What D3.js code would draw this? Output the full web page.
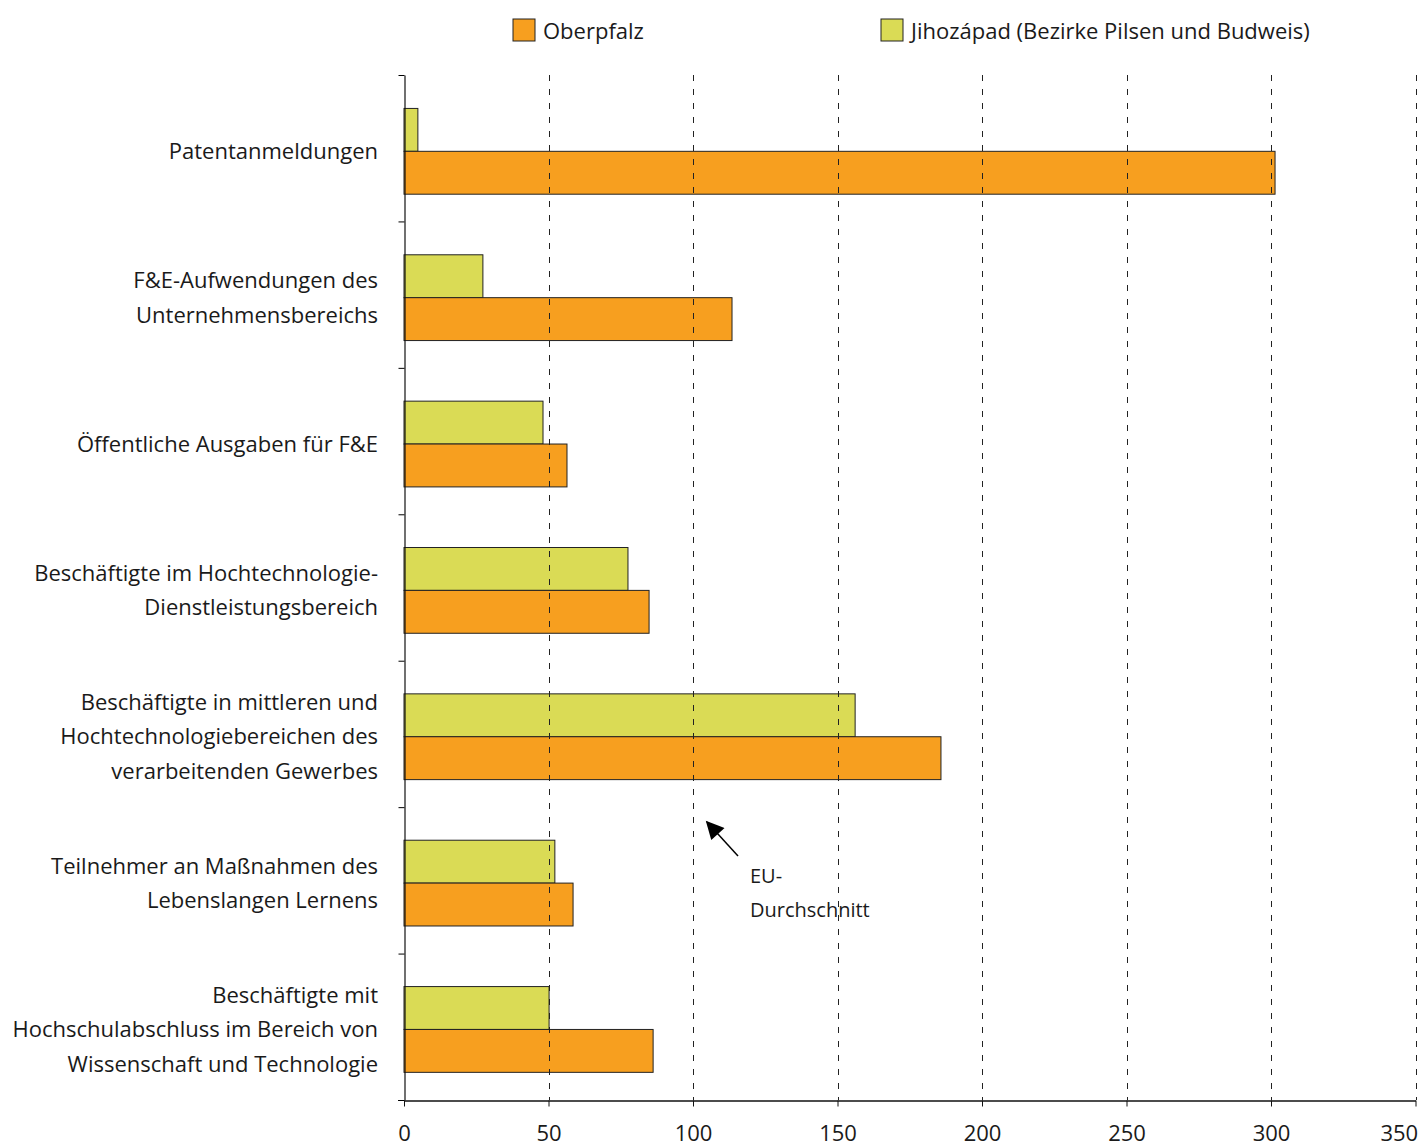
<!DOCTYPE html>
<html><head><meta charset="utf-8">
<script src="https://cdn.jsdelivr.net/npm/d3@7"></script>
<style>body{margin:0;background:#fff}svg{display:block}text{font-family:"Open Sans",sans-serif;fill:#1a1a1a}</style>
</head><body><svg id="c" width="1418" height="1148"></svg>
<script>
const categories = [
  ["Patentanmeldungen"],
  ["F&E-Aufwendungen des","Unternehmensbereichs"],
  ["Öffentliche Ausgaben für F&E"],
  ["Beschäftigte im Hochtechnologie-","Dienstleistungsbereich"],
  ["Beschäftigte in mittleren und","Hochtechnologiebereichen des","verarbeitenden Gewerbes"],
  ["Teilnehmer an Maßnahmen des","Lebenslangen Lernens"],
  ["Beschäftigte mit","Hochschulabschluss im Bereich von","Wissenschaft und Technologie"]
];
const seriesNames = ["Oberpfalz","Jihozápad (Bezirke Pilsen und Budweis)"];
const jihozapad = [4.8, 27.3, 48.1, 77.5, 156.1, 52.2, 50.2];
const oberpfalz = [301.4, 113.5, 56.4, 84.8, 185.8, 58.5, 86.2];
const xTicks = [0,50,100,150,200,250,300,350];
const colors = {o:"#F79F1F", j:"#DADB55"};

const svg = d3.select("#c");
const x = d3.scaleLinear().domain([0,350]).range([404,1415.5]);
const y = d3.scaleBand().domain(d3.range(categories.length)).range([75.5,1100]);
const bw = y.bandwidth();
const off = bw*0.225, bh = bw*0.293;

// bars
const g = svg.append("g");
categories.forEach((c,i)=>{
  const y0 = y(i)+off;
  g.append("rect").attr("x",x(0)).attr("y",y0).attr("width",x(jihozapad[i])-x(0)).attr("height",bh)
   .attr("fill",colors.j).attr("stroke","#222").attr("stroke-width",1);
  g.append("rect").attr("x",x(0)).attr("y",y0+bh).attr("width",x(oberpfalz[i])-x(0)).attr("height",bh)
   .attr("fill",colors.o).attr("stroke","#222").attr("stroke-width",1);
  const cy = y0+bh;
  const n = c.length, lh = 34.5;
  c.forEach((t,k)=>{
    svg.append("text").attr("x",378).attr("y",cy+(k-(n-1)/2)*lh).attr("dy","0.35em")
      .attr("text-anchor","end").style("font-size","22px").text(t);
  });
});

// gridlines
svg.append("g").selectAll("line").data(xTicks.slice(1)).join("line")
  .attr("x1",d=>Math.round(x(d))+0.5).attr("x2",d=>Math.round(x(d))+0.5).attr("y1",75).attr("y2",1100)
  .attr("stroke","#222").attr("stroke-width",1).attr("stroke-dasharray","6,8");

// axes
const xa = svg.append("g").attr("transform","translate(0,1100.5)")
  .call(d3.axisBottom(x).tickValues(xTicks).tickSize(6).tickPadding(19).tickSizeOuter(0));
xa.select(".domain").attr("stroke","#111").attr("stroke-width",1.5);
xa.selectAll("text").style("font-size","22px").style("font-family","'Open Sans',sans-serif").attr("fill","#1a1a1a");
xa.selectAll(".tick line").attr("stroke","#111");
xa.selectAll(".tick").filter(d=>d===350).select("text").attr("text-anchor","end").attr("dx","0.1em");
svg.append("line").attr("x1",398).attr("x2",404).attr("y1",1100.5).attr("y2",1100.5).attr("stroke","#111");

const ya = svg.append("g").attr("transform","translate(404.5,0)")
  .call(d3.axisLeft(d3.scaleLinear().domain([0,categories.length]).range([1100,75]))
    .ticks(categories.length).tickSize(6).tickFormat("").tickSizeOuter(0));
ya.select(".domain").attr("stroke","#111").attr("stroke-width",1.2);

// legend
const leg = [{n:seriesNames[0],c:colors.o,x:513},{n:seriesNames[1],c:colors.j,x:881}];
leg.forEach(l=>{
  svg.append("rect").attr("x",l.x).attr("y",19).attr("width",22).attr("height",22).attr("fill",l.c).attr("stroke","#222");
  svg.append("text").attr("x",l.x+30).attr("y",31).attr("dy","0.35em").style("font-size","22px").text(l.n);
});

// annotation
const defs = svg.append("defs");
defs.append("marker").attr("id","ah").attr("viewBox","0 0 10 10").attr("refX",9).attr("refY",5)
  .attr("markerWidth",22).attr("markerHeight",18).attr("markerUnits","userSpaceOnUse").attr("orient","auto-start-reverse")
  .append("path").attr("d","M0,0L10,5L0,10z").attr("fill","#000");
svg.append("line").attr("x1",738).attr("y1",856).attr("x2",707).attr("y2",822)
  .attr("stroke","#000").attr("stroke-width",1.5).attr("marker-end","url(#ah)");
svg.append("text").attr("x",750).attr("y",876).attr("dy","0.35em").style("font-size","20px").text("EU-");
svg.append("text").attr("x",750).attr("y",910).attr("dy","0.35em").style("font-size","20px").text("Durchschnitt");
</script></body></html>
